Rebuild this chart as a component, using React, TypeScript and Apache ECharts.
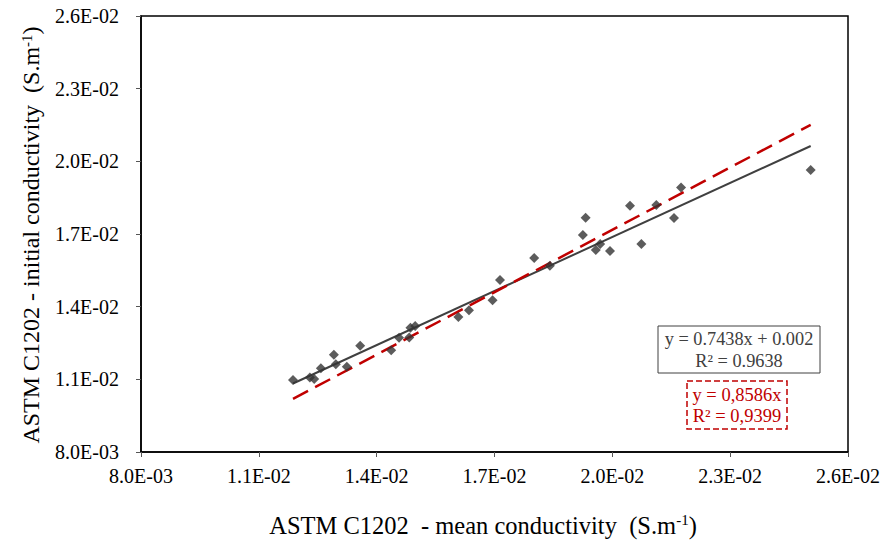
import React, { useEffect, useRef } from "react";
import * as echarts from "echarts";

const xValues = [
  0.01187, 0.0123, 0.01241, 0.01258, 0.01291, 0.01296, 0.01324, 0.01358, 0.01437, 0.01457,
  0.01483, 0.01486, 0.01498, 0.01608, 0.01635, 0.01695, 0.01714, 0.01801, 0.01841, 0.01925,
  0.01932, 0.01958, 0.01969, 0.01994, 0.02045, 0.02074, 0.02112, 0.02157, 0.02175, 0.02505,
];
const yValues = [
  0.01097, 0.01108, 0.01101, 0.01146, 0.01202, 0.01162, 0.01152, 0.01239, 0.0122, 0.01272,
  0.01273, 0.01313, 0.0132, 0.01357, 0.01385, 0.01426, 0.0151, 0.01601, 0.01569, 0.01696,
  0.01767, 0.01634, 0.01659, 0.0163, 0.01817, 0.01659, 0.0182, 0.01766, 0.01892, 0.01964,
];
const fitSlope = 0.7438;
const fitIntercept = 0.002;
const throughOriginSlope = 0.8586;
const fitLabel = ["y = 0.7438x + 0.002", "R² = 0.9638"];
const originLabel = ["y = 0,8586x", "R² = 0,9399"];
const axisMin = 0.008;
const axisMax = 0.026;
const axisStep = 0.003;

const FONT = "Liberation Serif";

function fmt(v: number): string {
  const s = v.toExponential(1).toUpperCase();
  const [m, e] = s.split("E");
  const n = parseInt(e, 10);
  const es = (n < 0 ? "-" : "+") + String(Math.abs(n)).padStart(2, "0");
  return m + "E" + es;
}

export default function App() {
  const ref = useRef<HTMLDivElement>(null);
  useEffect(() => {
    if (!ref.current) return;
    const chart = echarts.init(ref.current, undefined, { renderer: "svg" });
    const xMinData = Math.min(...xValues);
    const xMaxData = Math.max(...xValues);
    const points = xValues.map((x, i) => [x, yValues[i]]);
    const fitLine = [
      [xMinData, fitSlope * xMinData + fitIntercept],
      [xMaxData, fitSlope * xMaxData + fitIntercept],
    ];
    const originLine = [
      [xMinData, throughOriginSlope * xMinData],
      [xMaxData, throughOriginSlope * xMaxData],
    ];
    const axisCommon = {
      type: "value" as const,
      min: axisMin,
      max: axisMax,
      interval: axisStep,
      splitLine: { show: false },
      axisLine: { show: true, lineStyle: { color: "#000", width: 1.5 } },
      axisTick: { show: true, inside: false, length: 5, lineStyle: { color: "#555", width: 1 } },
      axisLabel: {
        formatter: (v: number) => fmt(v),
        fontFamily: FONT,
        fontSize: 20,
        color: "#000",
      },
    };
    chart.setOption({
      animation: false,
      backgroundColor: "#fff",
      grid: {
        left: 141,
        top: 16,
        right: 36,
        bottom: 91,
        show: true,
        borderColor: "#000",
        borderWidth: 1.5,
        backgroundColor: "transparent",
      },
      xAxis: {
        ...axisCommon,
        axisLabel: { ...axisCommon.axisLabel, margin: 14 },
      },
      yAxis: {
        ...axisCommon,
        axisLabel: { ...axisCommon.axisLabel, margin: 22 },
      },
      series: [
        {
          type: "line",
          data: fitLine,
          showSymbol: false,
          symbol: "none",
          lineStyle: { color: "#404040", width: 2 },
          z: 2,
        },
        {
          type: "line",
          data: originLine,
          showSymbol: false,
          symbol: "none",
          lineStyle: { color: "#c00000", width: 2.5, type: [17, 8] },
          z: 3,
        },
        {
          type: "scatter",
          data: points,
          symbol: "diamond",
          symbolSize: 10,
          itemStyle: { color: "#333333" },
          z: 4,
        },
      ],
      graphic: [
        {
          type: "text",
          x: 483,
          y: 525,
          style: {
            text: "ASTM C1202  - mean conductivity  (S.m{sup|-1})",
            fontFamily: FONT,
            fontSize: 24.5,
            fill: "#000",
            align: "center",
            verticalAlign: "middle",
            rich: {
              sup: { fontSize: 15, fontFamily: FONT, verticalAlign: "top", fill: "#000" },
            },
          },
        },
        {
          type: "text",
          x: 31,
          y: 235,
          rotation: Math.PI / 2,
          style: {
            text: "ASTM C1202 - initial conductivity  (S.m{sup|-1})",
            fontFamily: FONT,
            fontSize: 24,
            fill: "#000",
            align: "center",
            verticalAlign: "middle",
            rich: {
              sup: { fontSize: 15, fontFamily: FONT, verticalAlign: "top", fill: "#000" },
            },
          },
        },
        {
          type: "group",
          x: 658,
          y: 326,
          children: [
            {
              type: "rect",
              shape: { x: 0, y: 0, width: 162, height: 47 },
              style: { fill: "#fff", stroke: "#404040", lineWidth: 1 },
            },
            {
              type: "text",
              x: 81,
              y: 13,
              style: {
                text: fitLabel[0],
                fontFamily: FONT,
                fontSize: 18.3,
                fill: "#404040",
                align: "center",
                verticalAlign: "middle",
              },
            },
            {
              type: "text",
              x: 81,
              y: 35,
              style: {
                text: fitLabel[1],
                fontFamily: FONT,
                fontSize: 18.3,
                fill: "#404040",
                align: "center",
                verticalAlign: "middle",
              },
            },
          ],
        },
        {
          type: "group",
          x: 687,
          y: 381,
          children: [
            {
              type: "rect",
              shape: { x: 0, y: 0, width: 100, height: 48 },
              style: { fill: "#fff", stroke: "#c00000", lineWidth: 1.5, lineDash: [6, 3] },
            },
            {
              type: "text",
              x: 50,
              y: 14,
              style: {
                text: originLabel[0],
                fontFamily: FONT,
                fontSize: 18.5,
                fill: "#c00000",
                align: "center",
                verticalAlign: "middle",
              },
            },
            {
              type: "text",
              x: 50,
              y: 35,
              style: {
                text: originLabel[1],
                fontFamily: FONT,
                fontSize: 18.5,
                fill: "#c00000",
                align: "center",
                verticalAlign: "middle",
              },
            },
          ],
        },
      ],
    });
    return () => chart.dispose();
  }, []);
  return <div ref={ref} style={{ width: 884, height: 543, position: "absolute", left: 0, top: 0 }} />;
}
